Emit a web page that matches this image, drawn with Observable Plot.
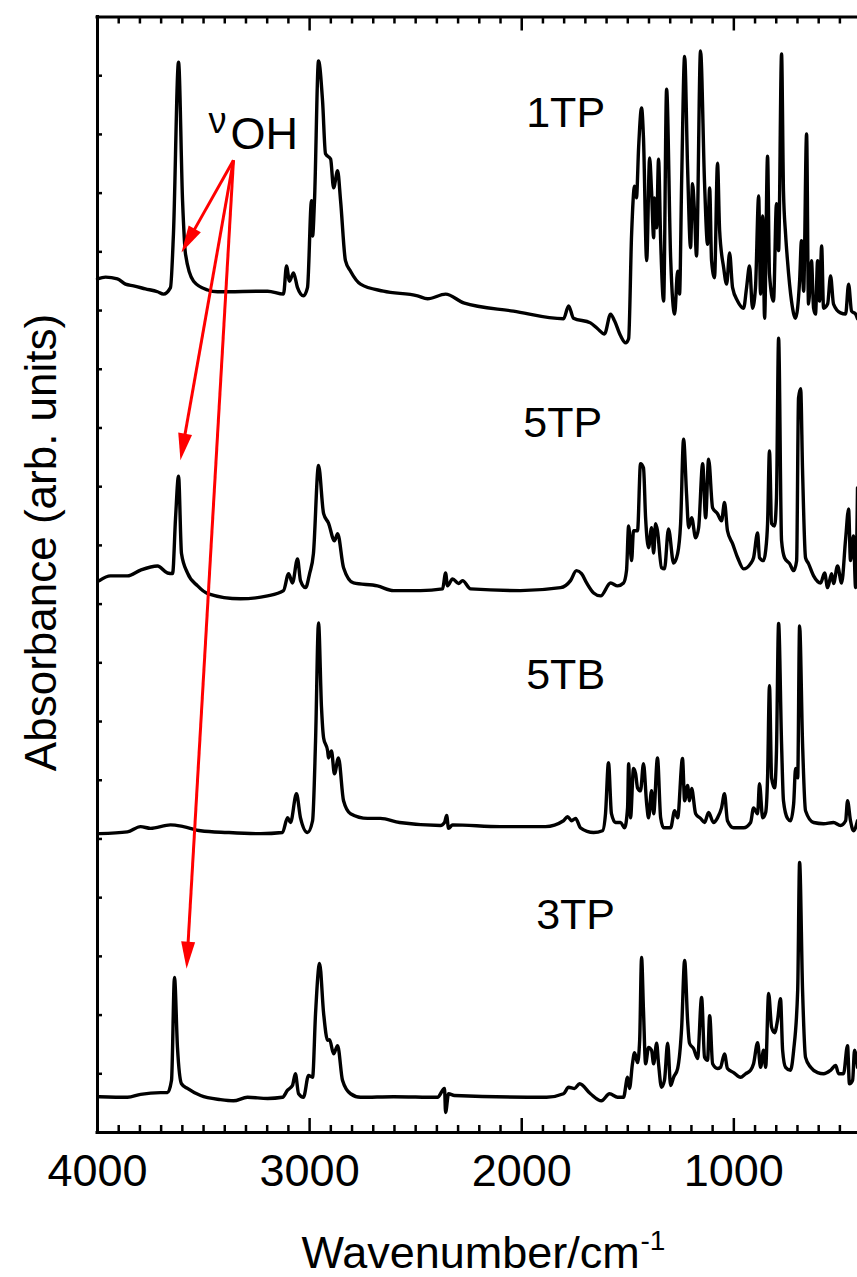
<!DOCTYPE html>
<html>
<head>
<meta charset="utf-8">
<script src="https://cdn.jsdelivr.net/npm/d3@7"></script>
<script src="https://cdn.jsdelivr.net/npm/@observablehq/plot@0.6"></script>
<style>
  body { margin: 0; background: #fff; }
  svg { display: block; }
</style>
</head>
<body>
<div id="chart"></div>
<script>
// ---- Spectra: [wavenumber (cm^-1), absorbance (arb. units, stacked)] ----
const spec1TP = [[4000,14.54],[3962,14.57],[3906,14.54],[3868,14.45],[3830,14.42],[3774,14.37],[3717,14.32],[3689,14.28],[3656,14.39],[3642,15.30],[3618,18.23],[3599,15.87],[3585,14.96],[3547,14.50],[3481,14.35],[3434,14.32],[3198,14.33],[3123,14.28],[3109,14.76],[3095,14.50],[3076,14.64],[3057,14.39],[3029,14.25],[3010,14.39],[2991,15.87],[2986,15.27],[2977,15.87],[2958,18.25],[2939,17.57],[2925,16.67],[2901,16.58],[2887,16.09],[2868,16.38],[2854,15.87],[2831,14.85],[2807,14.67],[2760,14.45],[2652,14.33],[2491,14.25],[2444,14.20],[2359,14.28],[2274,14.13],[2039,13.99],[1803,13.86],[1779,14.08],[1756,13.87],[1676,13.79],[1642,13.69],[1610,13.60],[1581,13.94],[1562,13.82],[1534,13.57],[1510,13.45],[1496,13.52],[1482,15.30],[1468,16.12],[1459,15.92],[1449,16.77],[1435,17.45],[1426,16.94],[1411,14.85],[1397,16.60],[1388,16.04],[1378,15.24],[1374,15.92],[1364,15.41],[1355,16.58],[1345,15.19],[1331,14.16],[1317,17.77],[1298,14.90],[1279,13.94],[1265,14.67],[1256,14.28],[1246,16.21],[1232,18.33],[1218,16.43],[1204,15.07],[1195,16.16],[1185,15.64],[1176,14.93],[1157,18.42],[1138,16.16],[1124,15.13],[1114,16.09],[1105,14.85],[1091,14.56],[1077,16.51],[1067,15.36],[1048,14.73],[1034,14.45],[1020,14.98],[1006,14.39],[982,14.16],[954,14.04],[940,14.39],[926,14.76],[912,14.04],[898,14.39],[883,15.95],[874,14.28],[864,15.61],[855,13.87],[841,16.63],[832,14.62],[813,14.16],[799,15.82],[789,15.02],[775,18.37],[766,16.04],[756,15.30],[747,14.85],[728,14.16],[709,13.87],[690,14.50],[681,15.19],[671,14.33],[657,17.01],[648,14.11],[634,14.85],[624,14.04],[615,13.94],[605,14.85],[596,14.16],[586,15.10],[577,14.04],[558,14.11],[544,14.59],[530,14.11],[497,13.96],[473,13.94],[459,14.45],[445,13.99],[426,13.94],[417,13.86]];

const spec5TP = [[3991,9.40],[3939,9.48],[3859,9.48],[3797,9.58],[3717,9.65],[3670,9.53],[3646,9.52],[3632,10.47],[3618,11.18],[3604,9.86],[3576,9.53],[3528,9.31],[3481,9.18],[3326,9.09],[3198,9.14],[3123,9.23],[3099,9.52],[3081,9.36],[3057,9.77],[3043,9.40],[3019,9.28],[3000,9.52],[2982,9.86],[2958,11.36],[2934,10.54],[2911,10.38],[2883,10.08],[2868,10.20],[2840,9.62],[2793,9.36],[2680,9.31],[2604,9.23],[2477,9.23],[2373,9.26],[2359,9.53],[2350,9.31],[2326,9.43],[2298,9.35],[2279,9.40],[2241,9.26],[2006,9.23],[1817,9.28],[1770,9.40],[1742,9.57],[1718,9.52],[1694,9.36],[1661,9.19],[1628,9.14],[1581,9.36],[1548,9.31],[1520,9.36],[1506,9.57],[1496,10.33],[1482,9.74],[1473,10.25],[1454,10.25],[1440,11.39],[1426,11.32],[1416,10.47],[1402,9.96],[1388,10.30],[1378,9.87],[1369,10.37],[1360,10.25],[1341,9.62],[1327,9.60],[1308,10.28],[1284,9.70],[1265,9.86],[1251,10.37],[1237,11.81],[1223,10.88],[1213,10.30],[1199,10.47],[1180,10.13],[1166,10.30],[1147,11.39],[1133,10.47],[1119,11.47],[1100,10.64],[1077,10.54],[1058,10.42],[1044,10.73],[1030,10.25],[1006,10.03],[982,9.79],[954,9.60],[921,9.69],[907,9.79],[888,10.21],[879,9.79],[860,9.74],[850,9.91],[841,10.37],[832,11.61],[822,10.37],[808,10.33],[799,10.81],[789,13.53],[775,10.08],[761,9.79],[737,9.69],[718,9.57],[704,9.74],[695,12.51],[685,12.67],[676,11.27],[662,9.79],[648,9.69],[624,9.48],[591,9.36],[572,9.53],[558,9.28],[539,9.52],[530,9.35],[511,9.65],[492,9.36],[473,10.11],[459,10.62],[450,9.74],[436,10.16],[426,9.28],[417,10.98]];

const spec5TB = [[3991,5.09],[3859,5.12],[3797,5.21],[3750,5.18],[3656,5.24],[3595,5.21],[3514,5.14],[3387,5.11],[3231,5.09],[3128,5.11],[3104,5.36],[3090,5.28],[3062,5.77],[3043,5.36],[3010,5.11],[2986,5.31],[2972,6.67],[2958,8.68],[2944,7.24],[2934,6.72],[2915,6.50],[2911,6.38],[2897,6.50],[2883,6.11],[2864,6.38],[2840,5.65],[2807,5.43],[2727,5.35],[2666,5.35],[2576,5.28],[2383,5.23],[2364,5.28],[2354,5.40],[2345,5.18],[2326,5.24],[2100,5.21],[1888,5.21],[1803,5.31],[1784,5.38],[1765,5.31],[1746,5.35],[1723,5.19],[1661,5.11],[1619,5.14],[1605,5.43],[1591,6.30],[1577,5.43],[1558,5.28],[1534,5.28],[1515,5.19],[1501,5.53],[1496,6.28],[1487,5.36],[1473,6.20],[1463,6.11],[1454,5.87],[1440,5.82],[1426,6.28],[1411,5.60],[1402,5.36],[1388,5.82],[1378,5.43],[1360,6.38],[1345,5.36],[1331,5.19],[1298,5.19],[1279,5.48],[1265,5.36],[1242,6.37],[1232,5.65],[1218,5.91],[1209,5.65],[1199,5.86],[1180,5.43],[1157,5.35],[1138,5.28],[1119,5.45],[1096,5.28],[1077,5.36],[1058,5.53],[1044,5.77],[1030,5.31],[1001,5.19],[954,5.19],[921,5.28],[907,5.53],[888,5.43],[879,5.94],[864,5.36],[850,5.45],[841,6.04],[832,7.61],[822,6.04],[808,5.87],[799,6.50],[789,8.67],[775,6.62],[766,5.65],[747,5.35],[733,5.31],[718,5.60],[709,6.20],[699,6.04],[690,8.63],[676,6.62],[662,5.48],[624,5.28],[577,5.26],[530,5.28],[497,5.23],[473,5.31],[464,5.65],[450,5.31],[436,5.14],[417,5.31]];

const spec3TP = [[3991,0.61],[3859,0.60],[3797,0.65],[3703,0.68],[3670,0.68],[3651,0.89],[3637,2.64],[3623,1.45],[3604,0.83],[3576,0.75],[3514,0.63],[3420,0.56],[3359,0.54],[3293,0.60],[3198,0.58],[3128,0.60],[3104,0.72],[3081,0.80],[3067,1.00],[3052,0.66],[3029,0.60],[3005,0.97],[2986,0.94],[2972,2.03],[2953,2.88],[2934,2.03],[2915,1.57],[2906,1.58],[2887,1.34],[2868,1.48],[2845,0.89],[2807,0.66],[2760,0.60],[2604,0.61],[2397,0.60],[2364,0.75],[2359,0.34],[2345,0.66],[2317,0.63],[1883,0.60],[1803,0.66],[1779,0.77],[1751,0.75],[1727,0.83],[1676,0.66],[1624,0.54],[1586,0.66],[1548,0.60],[1520,0.60],[1501,0.94],[1492,0.75],[1478,1.17],[1468,1.36],[1454,1.19],[1444,1.57],[1435,2.98],[1426,2.08],[1416,1.17],[1402,1.45],[1388,1.40],[1378,1.17],[1364,1.52],[1355,1.17],[1341,0.77],[1327,0.89],[1312,1.52],[1298,0.80],[1284,0.94],[1265,1.09],[1246,1.79],[1232,2.93],[1218,1.91],[1209,1.52],[1190,1.43],[1171,1.26],[1152,2.30],[1138,1.28],[1124,1.23],[1114,1.99],[1100,1.17],[1077,1.09],[1063,1.11],[1044,1.34],[1030,1.09],[1001,1.02],[968,0.94],[945,1.00],[921,1.06],[907,1.17],[888,1.53],[874,1.11],[860,1.40],[850,1.11],[836,2.37],[822,1.79],[808,1.70],[794,1.91],[780,2.28],[770,1.40],[756,1.11],[733,1.06],[718,1.40],[699,2.42],[690,4.60],[676,2.42],[662,1.28],[638,1.11],[605,1.02],[577,1.00],[544,1.06],[520,1.14],[506,1.00],[483,1.00],[464,1.48],[455,0.83],[440,0.89],[431,1.40],[417,1.11]];

// ---- Labels / ticks ----
const sampleNames = ["1TP", "5TP", "5TB", "3TP"];
const sampleLabelPos = [[1793, 17.13], [1807, 11.84], [1793, 7.56], [1746, 3.47]];
const xTickLabels = [4000, 3000, 2000, 1000];
const xMajorTicks = [3000, 2000, 1000];
const xMinorTicks = d3.range(3900, 400, -100).filter(d => d % 1000 !== 0);
const yTicks = d3.range(1, 19);
const ohOrigin = [3359, 16.56];
const ohTips = [[3604, 14.99], [3609, 11.45], [3580, 2.79]];

// ---- Layout ----
const W = 857, H = 1277, mL = 97, mR = 0, mT = 16.5, mB = 145;
const frameW = W - mL - mR, frameH = H - mT - mB;
const xDomain = [4000, 417], yDomain = [0, 19];
const xs = d3.scaleLinear(xDomain, [mL, W - mR]);
const ys = d3.scaleLinear(yDomain, [H - mB, mT]);
const FONT = "Liberation Sans, Arial, Helvetica, sans-serif";

const spectra = [spec1TP, spec5TP, spec5TB, spec3TP];
const rows = [];
spectra.forEach((arr, i) => arr.forEach(([w, a]) => rows.push({name: sampleNames[i], w, a})));

const labels = sampleNames.map((t, i) => ({t, w: sampleLabelPos[i][0], a: sampleLabelPos[i][1]}));

// arrows: compute screen direction for the filled heads
const HEAD_L = 27, HEAD_W = 7;
const arrows = ohTips.map(([tw, ta]) => {
  const sx = xs(ohOrigin[0]), sy = ys(ohOrigin[1]);
  const tx = xs(tw), ty = ys(ta);
  const ang = Math.atan2(ty - sy, tx - sx);
  const ex = tx - (HEAD_L - 6) * Math.cos(ang), ey = ty - (HEAD_L - 6) * Math.sin(ang);
  return {x0: ohOrigin[0], y0: ohOrigin[1], x1: xs.invert(ex), y1: ys.invert(ey), tw, ta, ang};
});
function headSymbol(ang) {
  const c = Math.cos(ang), s = Math.sin(ang);
  return {
    draw(ctx) {
      const bx = -HEAD_L * c, by = -HEAD_L * s;
      ctx.moveTo(0, 0);
      ctx.lineTo(bx - HEAD_W * s, by + HEAD_W * c);
      ctx.lineTo(bx + HEAD_W * s, by - HEAD_W * c);
      ctx.closePath();
    }
  };
}

const chart = Plot.plot({
  width: W,
  height: H,
  marginLeft: mL,
  marginRight: mR,
  marginTop: mT,
  marginBottom: mB,
  style: {fontFamily: FONT, background: "#fff", color: "#000"},
  x: {domain: xDomain, axis: null},
  y: {domain: yDomain, axis: null},
  marks: [
    // spectra
    Plot.line(rows, {x: "w", y: "a", z: "name", curve: "monotone-x", stroke: "#000", strokeWidth: 3.4, strokeLinejoin: "round", strokeLinecap: "round"}),
    // frame (left, bottom, top)
    Plot.ruleX([xDomain[0]], {stroke: "#000", strokeWidth: 3, strokeLinecap: "square"}),
    Plot.ruleY(yDomain, {stroke: "#000", strokeWidth: 3, strokeLinecap: "square"}),
    // inward ticks: bottom
    Plot.tickX(xMinorTicks, {x: d => d, insetTop: frameH - 7, strokeWidth: 2.5}),
    Plot.tickX(xMajorTicks, {x: d => d, insetTop: frameH - 14, strokeWidth: 2.5}),
    // inward ticks: top
    Plot.tickX(xMinorTicks, {x: d => d, insetBottom: frameH - 7, strokeWidth: 2.5}),
    Plot.tickX(xMajorTicks, {x: d => d, insetBottom: frameH - 14, strokeWidth: 2.5}),
    // inward ticks: left
    Plot.tickY(yTicks, {y: d => d, insetRight: frameW - 5, strokeWidth: 2.5}),
    // tick labels
    Plot.text(xTickLabels, {x: d => d, y: yDomain[0], text: d => String(d), dy: 53, lineAnchor: "bottom", textAnchor: "middle", fontSize: 45, fill: "#000", fontFamily: FONT}),
    // axis titles
    Plot.text(["Wavenumber/cm"], {x: 2241, y: yDomain[0], dy: 135, lineAnchor: "bottom", textAnchor: "middle", fontSize: 45, fill: "#000", fontFamily: FONT}),
    Plot.text(["-1"], {x: 1440, y: yDomain[0], dy: 117, lineAnchor: "bottom", textAnchor: "start", fontSize: 28, fill: "#000", fontFamily: FONT}),
    Plot.text(["Absorbance (arb. units)"], {x: xDomain[0], y: 10.05, dx: -42, rotate: -90, lineAnchor: "bottom", textAnchor: "middle", fontSize: 44, fill: "#000", fontFamily: FONT}),
    // sample labels
    Plot.text(labels, {x: "w", y: "a", text: "t", lineAnchor: "bottom", textAnchor: "middle", fontSize: 43, fill: "#000", fontFamily: FONT}),
    // nu OH annotation
    Plot.text(["ν"], {x: 3477, y: 17.03, lineAnchor: "bottom", textAnchor: "start", fontSize: 36, fill: "#000", fontFamily: FONT}),
    Plot.text(["OH"], {x: 3373, y: 16.76, lineAnchor: "bottom", textAnchor: "start", fontSize: 45, fill: "#000", fontFamily: FONT}),
    Plot.link(arrows, {x1: "x0", y1: "y0", x2: "x1", y2: "y1", stroke: "#ff0000", strokeWidth: 3}),
    ...arrows.map(a => Plot.dot([a], {x: "tw", y: "ta", symbol: headSymbol(a.ang), r: 5, fill: "#ff0000", stroke: "none"}))
  ]
});

document.getElementById("chart").appendChild(chart);
</script>
</body>
</html>
